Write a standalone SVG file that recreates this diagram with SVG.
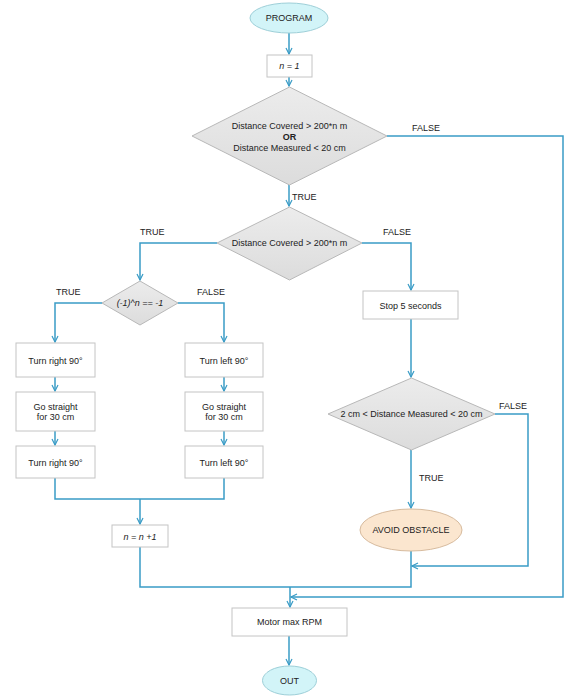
<svg xmlns="http://www.w3.org/2000/svg" width="574" height="699" viewBox="0 0 574 699">
<style>
  text { font-family: "Liberation Sans", Arial, sans-serif; font-size: 9px; fill: #222; }
  .c { text-anchor: middle; }
  .i { font-style: italic; }
  .b { font-weight: bold; }
  .box { fill: #ffffff; stroke: #c4c4c4; stroke-width: 1; }
  .dia { fill: url(#g); stroke: #b8b8b8; stroke-width: 1; }
  .term { fill: #d2f4f8; stroke: #9dcfd8; stroke-width: 1; }
  .avoid { fill: #fbe6cf; stroke: #d7bb9e; stroke-width: 1; }
  .ln { fill: none; stroke: #3a9cc6; stroke-width: 1.5; }
</style>
<defs>
  <linearGradient id="g" x1="0" y1="0" x2="0" y2="1">
    <stop offset="0" stop-color="#ececec"/>
    <stop offset="1" stop-color="#dcdcdc"/>
  </linearGradient>
  <marker id="a" markerWidth="8" markerHeight="8" refX="7" refY="4" orient="auto" markerUnits="userSpaceOnUse">
    <path d="M1,1 L7,4 L1,7" fill="none" stroke="#3a9cc6" stroke-width="1.2"/>
  </marker>
</defs>
<rect width="574" height="699" fill="#ffffff"/>

<g id="connectors">
  <path class="ln" d="M289,33 V54" marker-end="url(#a)"/>
  <path class="ln" d="M289,77 V86" marker-end="url(#a)"/>
  <path class="ln" d="M289,185 V206" marker-end="url(#a)"/>
  <path class="ln" d="M387,136 H563 V597 H291" marker-end="url(#a)"/>
  <path class="ln" d="M217,243 H140 V280" marker-end="url(#a)"/>
  <path class="ln" d="M362,243 H411 V290" marker-end="url(#a)"/>
  <path class="ln" d="M102,303 H55 V342" marker-end="url(#a)"/>
  <path class="ln" d="M178,303 H224 V342" marker-end="url(#a)"/>
  <path class="ln" d="M55,377 V391" marker-end="url(#a)"/>
  <path class="ln" d="M55,431 V445" marker-end="url(#a)"/>
  <path class="ln" d="M224,377 V391" marker-end="url(#a)"/>
  <path class="ln" d="M224,431 V445" marker-end="url(#a)"/>
  <path class="ln" d="M55,478 V499 H224 V478"/>
  <path class="ln" d="M140,499 V524" marker-end="url(#a)"/>
  <path class="ln" d="M140,547 V587 H411 V551"/>
  <path class="ln" d="M411,319 V377" marker-end="url(#a)"/>
  <path class="ln" d="M411,450 V508" marker-end="url(#a)"/>
  <path class="ln" d="M495,414 H528 V566 H412" marker-end="url(#a)"/>
  <path class="ln" d="M290,587 V607" marker-end="url(#a)"/>
  <path class="ln" d="M289,636 V665" marker-end="url(#a)"/>
  <text x="412" y="131">FALSE</text>
  <text x="292" y="200">TRUE</text>
  <text x="140" y="235">TRUE</text>
  <text x="383" y="235">FALSE</text>
  <text x="56" y="295">TRUE</text>
  <text x="197" y="295">FALSE</text>
  <text x="499" y="409">FALSE</text>
  <text x="419" y="481">TRUE</text>
</g>

<g id="program">
  <ellipse class="term" cx="289" cy="18" rx="39" ry="15"/>
  <text class="c" x="289" y="21">PROGRAM</text>
</g>
<g id="init">
  <rect class="box" x="267" y="55" width="45" height="22"/>
  <text class="c i" x="289.5" y="69">n = 1</text>
</g>
<g id="cond1">
  <polygon class="dia" points="289.5,87 387,136 289.5,185 192,136"/>
  <text class="c" x="289.5" y="129">Distance Covered &gt; 200*n m</text>
  <text class="c b" x="289.5" y="140">OR</text>
  <text class="c" x="289.5" y="151">Distance Measured &lt; 20 cm</text>
</g>
<g id="cond2">
  <polygon class="dia" points="289.5,207 362,243 289.5,280 217,243"/>
  <text class="c" x="289.5" y="246">Distance Covered &gt; 200*n m</text>
</g>
<g id="cond3">
  <polygon class="dia" points="140,281 178,303 140,325 102,303"/>
  <text class="c i" x="140" y="306">(-1)^n == -1</text>
</g>
<g id="right1">
  <rect class="box" x="16" y="343" width="79" height="34"/>
  <text class="c" x="55.5" y="364">Turn right 90°</text>
</g>
<g id="straight1">
  <rect class="box" x="16" y="392" width="79" height="39"/>
  <text class="c" x="55.5" y="410">Go straight</text>
  <text class="c" x="55.5" y="420">for 30 cm</text>
</g>
<g id="right2">
  <rect class="box" x="16" y="446" width="79" height="32"/>
  <text class="c" x="55.5" y="466">Turn right 90°</text>
</g>
<g id="left1">
  <rect class="box" x="185" y="343" width="78" height="34"/>
  <text class="c" x="224" y="364">Turn left 90°</text>
</g>
<g id="straight2">
  <rect class="box" x="185" y="392" width="78" height="39"/>
  <text class="c" x="224" y="410">Go straight</text>
  <text class="c" x="224" y="420">for 30 cm</text>
</g>
<g id="left2">
  <rect class="box" x="185" y="446" width="78" height="32"/>
  <text class="c" x="224" y="466">Turn left 90°</text>
</g>
<g id="incr">
  <rect class="box" x="112" y="525" width="56" height="22"/>
  <text class="c i" x="140" y="540">n = n +1</text>
</g>
<g id="stop">
  <rect class="box" x="363" y="291" width="95" height="28"/>
  <text class="c" x="410.5" y="309">Stop 5 seconds</text>
</g>
<g id="cond4">
  <polygon class="dia" points="411.5,378 495,414 411.5,450 328,414"/>
  <text class="c" x="411.5" y="417">2 cm &lt; Distance Measured &lt; 20 cm</text>
</g>
<g id="avoid">
  <ellipse class="avoid" cx="411" cy="530" rx="51" ry="21"/>
  <text class="c" x="411" y="533">AVOID OBSTACLE</text>
</g>
<g id="motor">
  <rect class="box" x="232" y="608" width="115" height="28"/>
  <text class="c" x="289.5" y="625">Motor max RPM</text>
</g>
<g id="out">
  <ellipse class="term" cx="289.5" cy="680.5" rx="27" ry="14.5"/>
  <text class="c" x="289.5" y="684">OUT</text>
</g>
</svg>
